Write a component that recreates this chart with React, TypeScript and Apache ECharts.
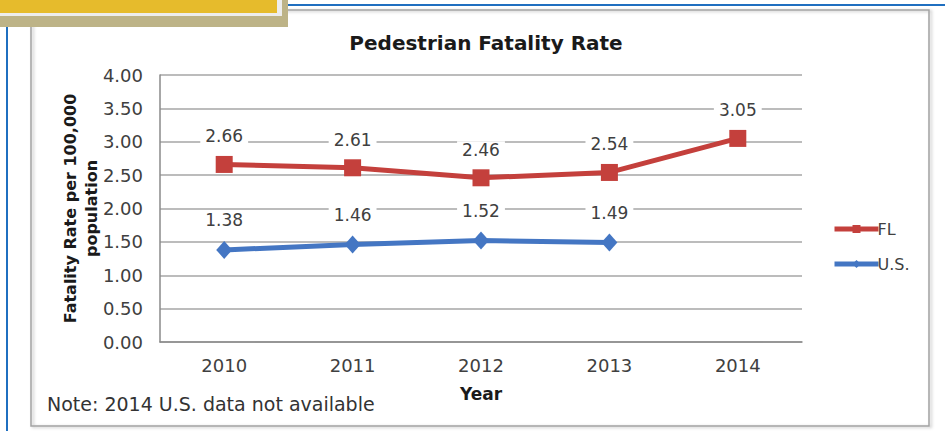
import React, { useEffect, useRef } from "react";
import * as echarts from "echarts";

const years = ["2010", "2011", "2012", "2013", "2014"];
const flValues = [2.66, 2.61, 2.46, 2.54, 3.05];
const usValues: (number | null)[] = [1.38, 1.46, 1.52, 1.49, null];
const yTicks = { min: 0, max: 4, interval: 0.5 };
const titleText = "Pedestrian Fatality Rate";
const yName = "Fatality Rate per 100,000\npopulation";
const xName = "Year";
const noteText = "Note: 2014 U.S. data not available";

const RED = "#C4403C";
const BLUE = "#4476C3";
const TXT = "#404040";
const FONT = "DejaVu Sans";

export default function App() {
  const ref = useRef<HTMLDivElement>(null);
  useEffect(() => {
    document.body.style.margin = "0";
    const chart = echarts.init(ref.current!, null, { renderer: "svg" });
    const label = {
      show: true,
      position: "top" as const,
      distance: 11,
      fontFamily: FONT,
      fontSize: 17,
      color: TXT,
      backgroundColor: "#ffffff",
      padding: [0, 5],
      formatter: (p: any) => Number(p.value).toFixed(2),
    };
    chart.setOption({
      animation: false,
      backgroundColor: "#ffffff",
      title: {
        text: titleText,
        left: 481,
        top: 28,
        textAlign: "center",
        textStyle: { fontFamily: FONT, fontSize: 20, fontWeight: "bold", color: "#1a1a1a" },
      },
      grid: { left: 160, top: 75, right: 143, bottom: 89, containLabel: false },
      legend: {
        orient: "vertical",
        left: 827,
        top: 216,
        itemGap: 19,
        itemWidth: 44,
        itemHeight: 10,
        lineStyle: { width: 5 },
        textStyle: { fontFamily: FONT, fontSize: 16, color: TXT, padding: [0, 0, 0, -6] },
        data: ["FL", "U.S."],
      },
      xAxis: {
        type: "category",
        data: years,
        boundaryGap: true,
        axisLine: { lineStyle: { color: "#8a8a8a", width: 1.5 } },
        axisTick: { show: false },
        axisLabel: { fontFamily: FONT, fontSize: 18, color: TXT, margin: 14 },
        name: xName,
        nameLocation: "middle",
        nameGap: 43,
        nameTextStyle: { fontFamily: FONT, fontSize: 17, fontWeight: "bold", color: "#1a1a1a" },
      },
      yAxis: {
        type: "value",
        min: yTicks.min,
        max: yTicks.max,
        interval: yTicks.interval,
        axisLine: { show: true, lineStyle: { color: "#8a8a8a", width: 1.5 } },
        axisTick: { show: false },
        splitLine: { lineStyle: { color: "#a6a6a6", width: 1.5 } },
        axisLabel: {
          fontFamily: FONT,
          fontSize: 18,
          color: TXT,
          margin: 17,
          formatter: (v: number) => v.toFixed(2),
        },
        name: yName,
        nameLocation: "middle",
        nameRotate: 90,
        nameGap: 58,
        nameMoveOverlap: false,
        nameTextStyle: { fontFamily: FONT, fontSize: 16, fontWeight: "bold", color: "#1a1a1a", lineHeight: 21 },
      },
      series: [
        {
          name: "FL",
          type: "line",
          data: flValues,
          symbol: "rect",
          symbolSize: 17,
          lineStyle: { color: RED, width: 5 },
          itemStyle: { color: RED },
          label,
        },
        {
          name: "U.S.",
          type: "line",
          data: usValues,
          symbol: "diamond",
          symbolSize: [16, 18],
          lineStyle: { color: BLUE, width: 5 },
          itemStyle: { color: BLUE },
          label: { ...label, distance: 12 },
        },
      ],
      graphic: [
        {
          type: "rect",
          z: -10,
          silent: true,
          shape: { x: 31, y: 10, width: 898, height: 416 },
          style: { fill: "none", stroke: "#a3a3a3", lineWidth: 1.5, shadowBlur: 3, shadowColor: "rgba(0,0,0,0.25)", shadowOffsetX: 2, shadowOffsetY: 1 },
        },
        {
          type: "line",
          silent: true,
          shape: { x1: 7, y1: 22, x2: 7, y2: 431 },
          style: { stroke: "#1f6fc0", lineWidth: 2 },
        },
        {
          type: "line",
          silent: true,
          shape: { x1: 287, y1: 5, x2: 945, y2: 5 },
          style: { stroke: "#1f6fc0", lineWidth: 2 },
        },
        {
          type: "rect",
          silent: true,
          z: 100,
          shape: { x: 0, y: 0, width: 288, height: 27 },
          style: { fill: "#BDB387" },
        },
        {
          type: "rect",
          silent: true,
          z: 101,
          shape: { x: 0, y: 0, width: 282, height: 16 },
          style: { fill: "#EDEDED" },
        },
        {
          type: "rect",
          silent: true,
          z: 102,
          shape: { x: 0, y: 0, width: 277, height: 13 },
          style: { fill: "#E6BB2C" },
        },
        {
          type: "text",
          silent: true,
          left: 47,
          top: 394,
          style: { text: noteText, fontFamily: FONT, fontSize: 19, fill: "#333333" },
        },
      ],
    });
    return () => chart.dispose();
  }, []);
  return <div ref={ref} style={{ position: "fixed", left: 0, top: 0, width: 945, height: 431 }} />;
}
